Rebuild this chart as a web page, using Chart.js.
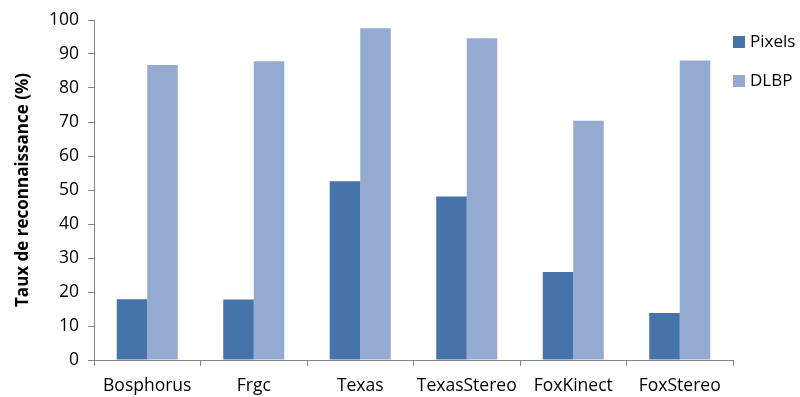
<!DOCTYPE html>
<html><head><meta charset="utf-8">
<script src="https://cdn.jsdelivr.net/npm/chart.js@4"></script>
<style>html,body{margin:0;padding:0;background:#fff}#wrap{width:800px;height:397px}</style>
</head><body><div id="wrap"><canvas id="c" width="800" height="397"></canvas></div>
<script>
const categories = ["Bosphorus","Frgc","Texas","TexasStereo","FoxKinect","FoxStereo"];
const pixels = [17.9, 17.8, 52.6, 48.1, 25.9, 13.8];
const dlbp = [86.8, 87.9, 97.6, 94.6, 70.4, 88.1];
const yTicks = [0,10,20,30,40,50,60,70,80,90,100];
const FONT = "'Open Sans', 'Liberation Sans', sans-serif";
const C1 = "#4673A9", C2 = "#95AAD0";

const legendPlugin = {
  id: 'customLegend',
  afterDraw(chart) {
    const ctx = chart.ctx;
    const items = [[C1, "Pixels", 42], [C2, "DLBP", 81]];
    ctx.save();
    ctx.font = "17px " + FONT;
    ctx.textBaseline = "middle";
    ctx.textAlign = "left";
    for (const [col, label, y] of items) {
      ctx.fillStyle = col;
      ctx.fillRect(733, y - 6, 12, 12);
      ctx.fillStyle = "#000";
      ctx.fillText(label, 750, y);
    }
    ctx.restore();
  }
};

new Chart(document.getElementById('c'), {
  type: 'bar',
  data: {
    labels: categories,
    datasets: [
      {label: "Pixels", data: pixels, backgroundColor: C1, categoryPercentage: 0.573, barPercentage: 1.0},
      {label: "DLBP", data: dlbp, backgroundColor: C2, categoryPercentage: 0.573, barPercentage: 1.0}
    ]
  },
  options: {
    responsive: false, animation: false,
    layout: {padding: {top: 20, right: 67, left: 0, bottom: 0}},
    plugins: {legend: {display: false}, tooltip: {enabled: false}},
    scales: {
      x: {
        grid: {offset: true, drawOnChartArea: false, drawTicks: true, tickLength: 6, color: "#868686"},
        border: {color: "#868686", width: 1},
        ticks: {color: "#000", font: {family: FONT, size: 17.5}, padding: 10, maxRotation: 0, autoSkip: false},
        afterFit(s) { s.height = 37; }
      },
      y: {
        min: 0, max: 100,
        afterBuildTicks(s) { s.ticks = yTicks.map(v => ({value: v})); },
        grid: {drawOnChartArea: false, drawTicks: true, tickLength: 6, color: "#868686"},
        border: {color: "#868686", width: 1},
        ticks: {color: "#000", font: {family: FONT, size: 17.5}, padding: 9},
        title: {display: true, text: "Taux de reconnaissance (%)", color: "#000", font: {family: FONT, size: 17, weight: "bold"}, padding: {top: 13, bottom: 0}},
        afterFit(s) { s.width = 94; }
      }
    }
  },
  plugins: [legendPlugin]
});
</script></body></html>
